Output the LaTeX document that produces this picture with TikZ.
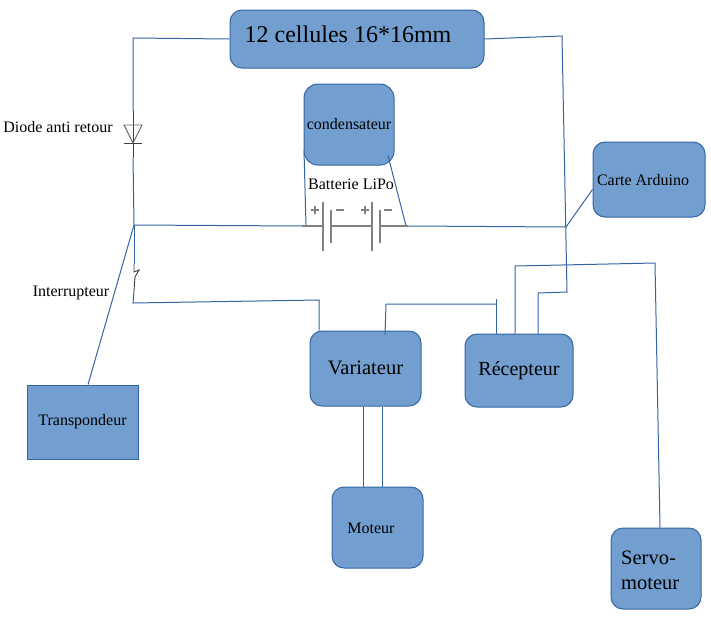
\documentclass[tikz,border=0pt]{standalone}
\usepackage{fontspec}
\setmainfont{Liberation Serif}
\usepackage{xcolor}
\usetikzlibrary{calc}
\definecolor{boxfill}{HTML}{729FCF}
\definecolor{boxline}{HTML}{3465A4}
\definecolor{partgray}{HTML}{808080}

\begin{document}
\begin{tikzpicture}[
    x=1pt, y=-1pt,
    block/.style={rectangle, draw=boxline, fill=boxfill, rounded corners=12pt, line width=1pt, inner sep=0pt, align=left},
    wire/.style={draw=boxline, line width=1pt},
    part/.style={draw=black!75, line width=0.9pt},
    plate/.style={draw=partgray, line width=1.8pt},
    txt/.style={inner sep=0pt, font=\fontsize{16}{18}\selectfont},
    big/.style={font=\fontsize{20.5}{25}\selectfont}
]
\useasboundingbox (0,0) rectangle (711,616);

% Blocks
\node[block, minimum width=254pt, minimum height=58pt] (cellules) at (357,39) {};
\node[block, minimum width=90pt, minimum height=81pt, rounded corners=14pt, font=\fontsize{16}{18}\selectfont] (condo) at (349,124.5) {condensateur};
\node[block, minimum width=112pt, minimum height=75pt] (arduino) at (649,179.5) {};
\node[block, minimum width=111pt, minimum height=75pt, big] (variateur) at (365.5,368.5) {\raisebox{2pt}{Variateur}};
\node[block, minimum width=108pt, minimum height=73pt, font=\fontsize{20}{24}\selectfont] (recepteur) at (519,370.5) {Récepteur};
\node[block, minimum width=111pt, minimum height=74pt, rounded corners=0pt, font=\fontsize{16}{18}\selectfont] (transpondeur) at (82.5,422) {\raisebox{-2pt}{Transpondeur}};
\node[block, minimum width=91pt, minimum height=81pt] (moteur) at (377.5,527.5) {};
\node[block, minimum width=90pt, minimum height=81pt] (servo) at (656,568.5) {};

% Labels
\node[txt, font=\fontsize{24}{28}\selectfont] (tcellules) at (348,34) {12 cellules 16*16mm};
\node[txt] (tarduino) at (643,180) {Carte Arduino};
\node[txt] (tmoteur) at (371,528) {Moteur};
\node[txt, big, align=left, anchor=west] (tservo) at (621,570) {Servo-\\moteur};
\node[txt] (tdiode) at (58,127) {Diode anti retour};
\node[txt] (tinter) at (71,292.5) {Interrupteur};
\node[txt] (tbatt) at (351,184) {Batterie LiPo};

% Junctions
\coordinate (diodeh) at (133,111);
\coordinate (diodeb) at (133,157);
\coordinate (noeud) at (134,225);
\coordinate (interh) at (134,264);
\coordinate (interb) at (134,291);
\coordinate (battg) at (302,226);
\coordinate (battd) at (408,226);
\coordinate (noeudd) at (566,227);

% Wiring
\draw[wire] (cellules.west) -- (133,38) -- (diodeh);
\draw[wire] (diodeb) -- (noeud);
\draw[wire] (noeud) -- (battg);
\draw[wire] (battd) -- (noeudd) -- ([yshift=-10]arduino.west);
\draw[wire] (noeud) -- (interh);
\draw[wire] (noeud) -- ([xshift=5.5]transpondeur.north);
\draw[wire] (interb) -- (133,303) -- (319,300) -- ([xshift=-46.5]variateur.north);
\draw[wire] ([xshift=19.5,yshift=-4]variateur.north) -- (386,304) -- (496,304);
\draw[wire] (496,299) -- ([xshift=-23]recepteur.north);
\draw[wire] (cellules.east) -- (562,36) -- (567,292) -- (538,293) -- ([xshift=19]recepteur.north);
\draw[wire] ([xshift=-4]recepteur.north) -- (515,266) -- (655,263) -- ([xshift=4]servo.north);
\draw[wire] ([xshift=-2.5]variateur.south) -- ([xshift=-14.5]moteur.north);
\draw[wire] ([xshift=16.5]variateur.south) -- ([xshift=4.5]moteur.north);
\draw[wire] ([xshift=-45,yshift=15]condo.south) -- (306,226);
\draw[wire] ([xshift=39,yshift=10]condo.south) -- (406,226);

% Diode
\draw[part] (diodeh) -- (diodeb);
\draw[part, draw=black!60] (124,125) -- (142,125) -- (133,143) -- cycle;
\draw[part] (124,143) -- (142,143);

% Interrupteur
\draw[part] (interh) -- (134,272) -- (139,270) -- (135,277) -- (interb);

% Batterie
\draw[plate] (battg) -- (323,226);
\draw[plate] (331,226) -- (372,226);
\draw[plate] (380,226) -- (battd);
\draw[plate] (323,202) -- (323,251);
\draw[plate] (331,210) -- (331,243);
\draw[plate] (372,202) -- (372,251);
\draw[plate] (380,210) -- (380,243);
\foreach \px in {315,365} {
    \draw[plate, line width=1.2pt] (\px-4,210) -- (\px+4,210);
    \draw[plate, line width=1.2pt] (\px,206) -- (\px,214);
}
\foreach \px in {340,388} {
    \draw[plate, line width=1.2pt] (\px-4,210) -- (\px+4,210);
}
\end{tikzpicture}
\end{document}
